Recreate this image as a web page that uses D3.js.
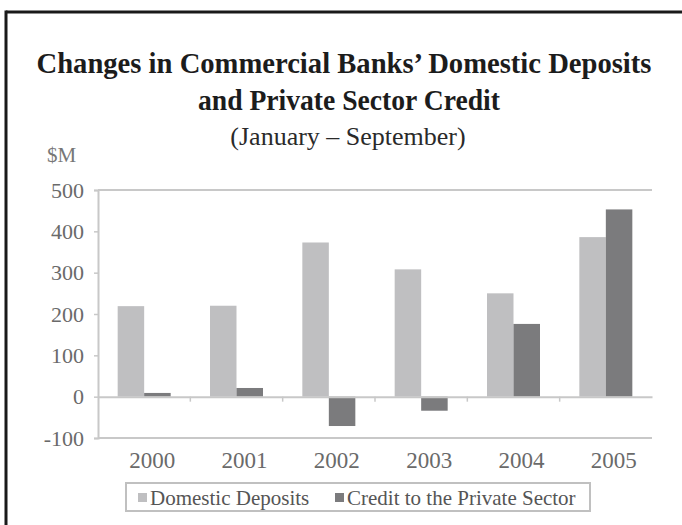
<!DOCTYPE html>
<html>
<head>
<meta charset="utf-8">
<script src="https://cdn.jsdelivr.net/npm/d3@7"></script>
<style>
  body { margin: 0; background: #fff; }
  text { font-family: "Liberation Serif", "Times New Roman", serif; }
</style>
</head>
<body>
<div id="chart"></div>
<script>
// values ($M, January - September)
const years = ["2000", "2001", "2002", "2003", "2004", "2005"];
const deposits = [219, 220, 373, 308, 250, 386];
const credit = [9, 21, -71, -34, 176, 453];
const yTicks = [-100, 0, 100, 200, 300, 400, 500];
const seriesNames = ["Domestic Deposits", "Credit to the Private Sector"];

const W = 682, H = 525;
const colors = ["#bfbfc1", "#7b7b7d"];

let svg = d3.select("#chart").append("svg")
  .attr("width", W).attr("height", H);

svg.append("rect").attr("width", W).attr("height", H).attr("fill", "#fff");

// frame (top and left edges only visible)
svg.append("line").attr("x1", 6).attr("x2", W).attr("y1", 12).attr("y2", 12)
  .attr("stroke", "#1a1a1a").attr("stroke-width", 3);
svg.append("line").attr("x1", 6).attr("x2", 6).attr("y1", 10.5).attr("y2", H)
  .attr("stroke", "#1a1a1a").attr("stroke-width", 3);

// titles
svg.append("text").attr("x", 344).attr("y", 73)
  .attr("text-anchor", "middle").attr("font-weight", "bold")
  .attr("font-size", 30).attr("fill", "#1c1c1c")
  .attr("textLength", 615).attr("lengthAdjust", "spacingAndGlyphs")
  .text("Changes in Commercial Banks’ Domestic Deposits");
svg.append("text").attr("x", 349).attr("y", 110)
  .attr("text-anchor", "middle").attr("font-weight", "bold")
  .attr("font-size", 30).attr("fill", "#1c1c1c")
  .attr("textLength", 302).attr("lengthAdjust", "spacingAndGlyphs")
  .text("and Private Sector Credit");
svg.append("text").attr("x", 348).attr("y", 145)
  .attr("text-anchor", "middle")
  .attr("font-size", 26).attr("fill", "#2a2a2a")
  .text("(January – September)");

let plotLeft = 98, plotRight = 652, plotTop = 190, plotBottom = 438;

let x0 = d3.scaleBand().domain(years).range([plotLeft, plotRight])
  .paddingInner(0.426).paddingOuter(0.213);
let x1 = d3.scaleBand().domain([0, 1]).range([0, x0.bandwidth()]);
let y = d3.scaleLinear().domain([-100, 500]).range([plotBottom, plotTop]);

// top line and bottom line of plot
[500, -100].forEach(v => {
  svg.append("line").attr("x1", plotLeft).attr("x2", plotRight)
    .attr("y1", y(v)).attr("y2", y(v))
    .attr("stroke", "#c8c8c8").attr("stroke-width", 2);
});

// bars
let rows = years.map((yr, i) => ({ year: yr, vals: [deposits[i], credit[i]] }));
svg.append("g").selectAll("g")
  .data(rows)
  .join("g")
  .attr("transform", d => "translate(" + x0(d.year) + ",0)")
  .selectAll("rect")
  .data(d => d.vals.map((v, k) => ({ k: k, v: v })))
  .join("rect")
  .attr("x", d => x1(d.k))
  .attr("width", x1.bandwidth())
  .attr("y", d => y(Math.max(0, d.v)))
  .attr("height", d => Math.abs(y(d.v) - y(0)))
  .attr("fill", d => colors[d.k]);

// y axis
let yAxis = svg.append("g")
  .attr("transform", "translate(" + plotLeft + ",0)")
  .call(d3.axisLeft(y).tickValues(yTicks).tickSize(4).tickPadding(10)
    .tickFormat(d => String(d)));
yAxis.select(".domain").attr("stroke", "#c8c8c8").attr("stroke-width", 2);
yAxis.selectAll(".tick line").attr("stroke", "#c8c8c8").attr("stroke-width", 1.5);
yAxis.selectAll(".tick text")
  .attr("font-size", 22).attr("fill", "#6a6a6a")
  .style("font-family", "Liberation Serif, serif");

// zero line with category ticks
let xAxis = svg.append("g")
  .attr("transform", "translate(0," + y(0) + ")")
  .call(d3.axisBottom(x0).tickSize(0).tickSizeOuter(0).tickFormat(""));
xAxis.select(".domain").attr("stroke", "#c8c8c8").attr("stroke-width", 2);
xAxis.selectAll(".tick").remove();
svg.append("g").selectAll("line")
  .data(years.slice(1))
  .join("line")
  .attr("x1", d => x0(d) - x0.step() * x0.paddingInner() / 2)
  .attr("x2", d => x0(d) - x0.step() * x0.paddingInner() / 2)
  .attr("y1", y(0)).attr("y2", y(0) + 5)
  .attr("stroke", "#c8c8c8").attr("stroke-width", 1.5);

// category labels
svg.append("g").selectAll("text")
  .data(years)
  .join("text")
  .attr("x", d => x0(d) + x0.bandwidth() / 2 + 8)
  .attr("y", 468)
  .attr("text-anchor", "middle")
  .attr("font-size", 23).attr("fill", "#6a6a6a")
  .text(d => d);

// unit label
svg.append("text").attr("x", 47).attr("y", 162)
  .attr("font-size", 21).attr("fill", "#777").text("$M");

// legend
let lg = svg.append("g");
lg.append("rect").attr("x", 126).attr("y", 483).attr("width", 464).attr("height", 28)
  .attr("fill", "#fff").attr("stroke", "#c0c0c0").attr("stroke-width", 2);
let legendX = [138, 335];
seriesNames.forEach((name, k) => {
  lg.append("rect").attr("x", legendX[k]).attr("y", 493)
    .attr("width", 9).attr("height", 9).attr("fill", colors[k]);
  lg.append("text").attr("x", legendX[k] + 12).attr("y", 505)
    .attr("font-size", 21).attr("fill", "#555").text(name);
});
</script>
</body>
</html>
